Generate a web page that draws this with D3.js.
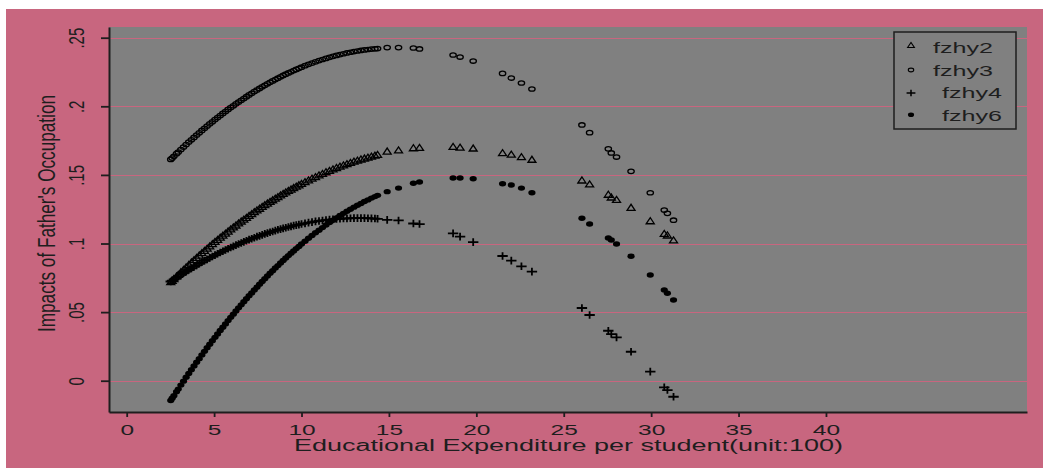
<!DOCTYPE html>
<html>
<head>
<meta charset="utf-8">
<script src="https://cdn.jsdelivr.net/npm/d3@7"></script>
<style>
	body { margin: 0; background: #ffffff; }
	text { font-family: "Liberation Sans", Arial, sans-serif; fill: #1e1e1e; }
</style>
</head>
<body>
<div id="chart"></div>
<script>
// educational expenditure per student (unit: 100)
const expenditure = [2.52, 2.6, 2.7, 2.85, 2.95, 3.1, 3.25, 3.4, 3.55, 3.7, 3.85, 4.0, 4.15, 4.3, 4.45, 4.6, 4.75, 4.9,
	5.05, 5.2, 5.35, 5.5, 5.65, 5.8, 5.95, 6.1, 6.25, 6.4, 6.55, 6.7, 6.85, 7.0, 7.15, 7.3, 7.45, 7.6, 7.75, 7.9,
	8.05, 8.2, 8.35, 8.5, 8.65, 8.8, 8.95, 9.1, 9.25, 9.4, 9.55, 9.7, 9.85, 10.0, 10.2, 10.4, 10.6, 10.8,
	11.0, 11.2, 11.4, 11.6, 11.8, 12.0, 12.2, 12.4, 12.6, 12.8, 13.0, 13.2, 13.4, 13.6, 13.8, 14.0, 14.2, 14.35,
	14.9, 15.55, 16.4, 16.75, 18.67, 19.07, 19.82, 21.5, 22.0, 22.58, 23.18, 26.04, 26.48, 27.55, 27.72, 28.02,
	28.85, 29.95, 30.75, 30.93, 31.28];

const fzhy2 = [0.0722, 0.0732, 0.0745, 0.0763, 0.0775, 0.0794, 0.0812, 0.0830, 0.0847, 0.0865, 0.0882, 0.0899, 0.0916, 0.0933, 0.0950, 0.0966, 0.0983, 0.0999,
	0.1015, 0.1030, 0.1046, 0.1061, 0.1076, 0.1091, 0.1106, 0.1121, 0.1135, 0.1150, 0.1164, 0.1178, 0.1191, 0.1205, 0.1218, 0.1232, 0.1245, 0.1257, 0.1270, 0.1283,
	0.1295, 0.1307, 0.1319, 0.1331, 0.1342, 0.1354, 0.1365, 0.1376, 0.1387, 0.1397, 0.1408, 0.1418, 0.1428, 0.1438, 0.1451, 0.1464, 0.1476, 0.1488,
	0.1500, 0.1511, 0.1523, 0.1533, 0.1544, 0.1554, 0.1564, 0.1573, 0.1582, 0.1591, 0.1600, 0.1608, 0.1616, 0.1623, 0.1630, 0.1637, 0.1644, 0.1649,
	0.1674, 0.1682, 0.1698, 0.1700, 0.1708, 0.1703, 0.1696, 0.1662, 0.1652, 0.1633, 0.1614, 0.1463, 0.1434, 0.1359, 0.1339, 0.1322,
	0.1264, 0.1166, 0.1074, 0.1062, 0.1026];

const fzhy3 = [0.1613, 0.1623, 0.1636, 0.1655, 0.1667, 0.1685, 0.1703, 0.1721, 0.1739, 0.1756, 0.1773, 0.1790, 0.1807, 0.1824, 0.1840, 0.1856, 0.1872, 0.1887,
	0.1903, 0.1918, 0.1933, 0.1948, 0.1962, 0.1977, 0.1991, 0.2004, 0.2018, 0.2031, 0.2044, 0.2057, 0.2070, 0.2083, 0.2095, 0.2107, 0.2119, 0.2130, 0.2142, 0.2153,
	0.2164, 0.2175, 0.2185, 0.2195, 0.2205, 0.2215, 0.2225, 0.2234, 0.2243, 0.2252, 0.2261, 0.2269, 0.2277, 0.2285, 0.2296, 0.2306, 0.2315, 0.2324,
	0.2333, 0.2341, 0.2349, 0.2357, 0.2364, 0.2371, 0.2377, 0.2383, 0.2389, 0.2394, 0.2399, 0.2403, 0.2407, 0.2411, 0.2414, 0.2417, 0.2419, 0.2421,
	0.2428, 0.2428, 0.2425, 0.2418, 0.2374, 0.2359, 0.2330, 0.2240, 0.2206, 0.2170, 0.2126, 0.1864, 0.1808, 0.1690, 0.1660, 0.1630,
	0.1526, 0.1370, 0.1244, 0.1220, 0.1170];

const fzhy4 = [0.0723, 0.0730, 0.0738, 0.0751, 0.0759, 0.0771, 0.0783, 0.0795, 0.0807, 0.0819, 0.0830, 0.0841, 0.0852, 0.0863, 0.0874, 0.0884, 0.0895, 0.0905,
	0.0915, 0.0925, 0.0934, 0.0944, 0.0953, 0.0962, 0.0971, 0.0979, 0.0988, 0.0996, 0.1004, 0.1012, 0.1020, 0.1028, 0.1035, 0.1042, 0.1050, 0.1056, 0.1063, 0.1070,
	0.1076, 0.1082, 0.1088, 0.1094, 0.1100, 0.1105, 0.1110, 0.1115, 0.1120, 0.1125, 0.1130, 0.1134, 0.1138, 0.1142, 0.1147, 0.1152, 0.1156, 0.1161,
	0.1164, 0.1168, 0.1171, 0.1174, 0.1176, 0.1179, 0.1180, 0.1182, 0.1183, 0.1184, 0.1185, 0.1185, 0.1185, 0.1185, 0.1184, 0.1183, 0.1182, 0.1180,
	0.1172, 0.1168, 0.1146, 0.1142, 0.1074, 0.1050, 0.1010, 0.0909, 0.0875, 0.0834, 0.0795, 0.0530, 0.0479, 0.0364, 0.0340, 0.0316,
	0.0211, 0.0066, -0.0048, -0.0068, -0.0117];

const fzhy6 = [-0.0144, -0.0128, -0.0109, -0.0080, -0.0061, -0.0032, -0.0003, 0.0025, 0.0053, 0.0080, 0.0108, 0.0135, 0.0161, 0.0188, 0.0214, 0.0240, 0.0266, 0.0291,
	0.0316, 0.0341, 0.0366, 0.0390, 0.0414, 0.0438, 0.0462, 0.0485, 0.0508, 0.0531, 0.0553, 0.0575, 0.0597, 0.0619, 0.0640, 0.0661, 0.0682, 0.0703, 0.0723, 0.0743,
	0.0763, 0.0783, 0.0802, 0.0821, 0.0839, 0.0858, 0.0876, 0.0894, 0.0912, 0.0929, 0.0946, 0.0963, 0.0979, 0.0996, 0.1017, 0.1038, 0.1058, 0.1078,
	0.1097, 0.1116, 0.1135, 0.1153, 0.1170, 0.1187, 0.1204, 0.1220, 0.1235, 0.1250, 0.1265, 0.1279, 0.1292, 0.1306, 0.1318, 0.1331, 0.1342, 0.1351,
	0.1378, 0.1404, 0.1439, 0.1448, 0.1477, 0.1477, 0.1472, 0.1436, 0.1426, 0.1404, 0.1370, 0.1184, 0.1142, 0.1040, 0.1026, 0.0996,
	0.0907, 0.0770, 0.0661, 0.0637, 0.0588];

const seriesNames = ["fzhy2", "fzhy3", "fzhy4", "fzhy6"];
const xTicks = [0, 5, 10, 15, 20, 25, 30, 35, 40];
const yTicks = [0, 0.05, 0.1, 0.15, 0.2, 0.25];
const yTickLabels = ["0", ".05", ".1", ".15", ".2", ".25"];

const pink = "#c8667f";
const gray = "#808080";
const ink = "#1e1e1e";

// marker shapes, drawn a bit wider than tall like the stretched original
const symbols = {
	fzhy2: { d: "M-4,3L0,-3L4,3Z", fill: "none", stroke: "#000", sw: 1.3 },
	fzhy3: { d: "M-3.2,0A3.2,2.2 0 1,0 3.2,0A3.2,2.2 0 1,0 -3.2,0Z", fill: "none", stroke: "#000", sw: 1.3 },
	fzhy4: { d: "M-5.2,0H5.2M0,-3.8V3.8", fill: "none", stroke: "#000", sw: 1.8 },
	fzhy6: { d: "M-3.6,0A3.6,2.7 0 1,0 3.6,0A3.6,2.7 0 1,0 -3.6,0Z", fill: "#000", stroke: "none", sw: 0 }
};

function drawChart() {
	const width = 1047, height = 468;

	const svg = d3.select("#chart")
		.append("svg")
		.attr("width", width)
		.attr("height", height);

	// pink page background and gray plot region
	svg.append("rect")
		.attr("x", 6).attr("y", 9)
		.attr("width", 1037).attr("height", 459)
		.attr("fill", pink);

	const x = d3.scaleLinear().domain([-1.0125, 51.5]).range([109, 1027]);
	const y = d3.scaleLinear().domain([-0.0228, 0.2578]).range([412, 27]);

	svg.append("rect")
		.attr("x", x.range()[0]).attr("y", y.range()[1])
		.attr("width", x.range()[1] - x.range()[0])
		.attr("height", y.range()[0] - y.range()[1])
		.attr("fill", gray);

	// horizontal grid lines
	svg.append("g")
		.selectAll("line")
		.data(yTicks)
		.join("line")
		.attr("x1", x.range()[0])
		.attr("x2", x.range()[1])
		.attr("y1", d => Math.round(y(d)) + 0.5)
		.attr("y2", d => Math.round(y(d)) + 0.5)
		.attr("stroke", pink)
		.attr("stroke-width", 1);

	// x axis
	const xAxis = svg.append("g")
		.attr("transform", `translate(0, ${y.range()[0]})`)
		.call(d3.axisBottom(x).tickValues(xTicks).tickSize(5).tickSizeOuter(0));
	xAxis.select(".domain").attr("stroke", ink).attr("stroke-width", 2);
	xAxis.selectAll(".tick line").attr("stroke", ink).attr("stroke-width", 1.8);
	xAxis.selectAll(".tick text")
		.attr("y", 23)
		.attr("dy", null)
		.attr("font-size", 14)
		.attr("fill", ink)
		.attr("transform", "scale(1.75,1)");

	// y axis, labels rotated like the original
	const yAxis = svg.append("g")
		.attr("transform", `translate(${x.range()[0]}, 0)`)
		.call(d3.axisLeft(y).tickValues(yTicks).tickSize(8).tickSizeOuter(0)
			.tickFormat((d, i) => yTickLabels[i]));
	yAxis.select(".domain").attr("stroke", ink).attr("stroke-width", 2);
	yAxis.selectAll(".tick line").attr("stroke", ink).attr("stroke-width", 1.8);
	yAxis.selectAll(".tick text")
		.attr("x", null)
		.attr("dy", null)
		.attr("text-anchor", "middle")
		.attr("font-size", 15)
		.attr("fill", ink)
		.attr("transform", "translate(-25,0) scale(1.5,1) rotate(-90)");

	// axis titles
	svg.append("text")
		.attr("x", 568.5)
		.attr("y", 451)
		.attr("text-anchor", "middle")
		.attr("font-size", 16)
		.attr("textLength", 549)
		.attr("lengthAdjust", "spacingAndGlyphs")
		.text("Educational Expenditure per student(unit:100)");

	svg.append("g")
		.attr("transform", "translate(55, 213.5) scale(1.4,1) rotate(-90)")
		.append("text")
		.attr("text-anchor", "middle")
		.attr("font-size", 17)
		.attr("textLength", 237)
		.attr("lengthAdjust", "spacingAndGlyphs")
		.text("Impacts of Father's Occupation");

	// scatter points
	const values = { fzhy2, fzhy3, fzhy4, fzhy6 };
	seriesNames.forEach(name => {
		const s = symbols[name];
		svg.append("g")
			.selectAll("path")
			.data(expenditure.map((e, i) => ({ e, v: values[name][i] })))
			.join("path")
			.attr("transform", d => `translate(${x(d.e)}, ${y(d.v)})`)
			.attr("d", s.d)
			.attr("fill", s.fill)
			.attr("stroke", s.stroke)
			.attr("stroke-width", s.sw);
	});

	drawLegend(svg);
}

function drawLegend(svg) {
	const legend = svg.append("g");

	legend.append("rect")
		.attr("x", 894).attr("y", 32)
		.attr("width", 122).attr("height", 97)
		.attr("fill", gray)
		.attr("stroke", ink)
		.attr("stroke-width", 1.5);

	const rows = [
		{ name: "fzhy2", my: 45, tx: 933, ty: 53 },
		{ name: "fzhy3", my: 70, tx: 933, ty: 76 },
		{ name: "fzhy4", my: 93, tx: 942, ty: 98 },
		{ name: "fzhy6", my: 114.7, tx: 942, ty: 121 }
	];

	rows.forEach(r => {
		const s = symbols[r.name];
		legend.append("path")
			.attr("transform", `translate(911, ${r.my}) scale(0.85)`)
			.attr("d", s.d)
			.attr("fill", s.fill)
			.attr("stroke", s.stroke)
			.attr("stroke-width", s.sw);

		legend.append("text")
			.attr("x", r.tx)
			.attr("y", r.ty)
			.attr("font-size", 14)
			.attr("textLength", 60)
			.attr("lengthAdjust", "spacingAndGlyphs")
			.text(r.name);
	});
}

drawChart();
</script>
</body>
</html>
